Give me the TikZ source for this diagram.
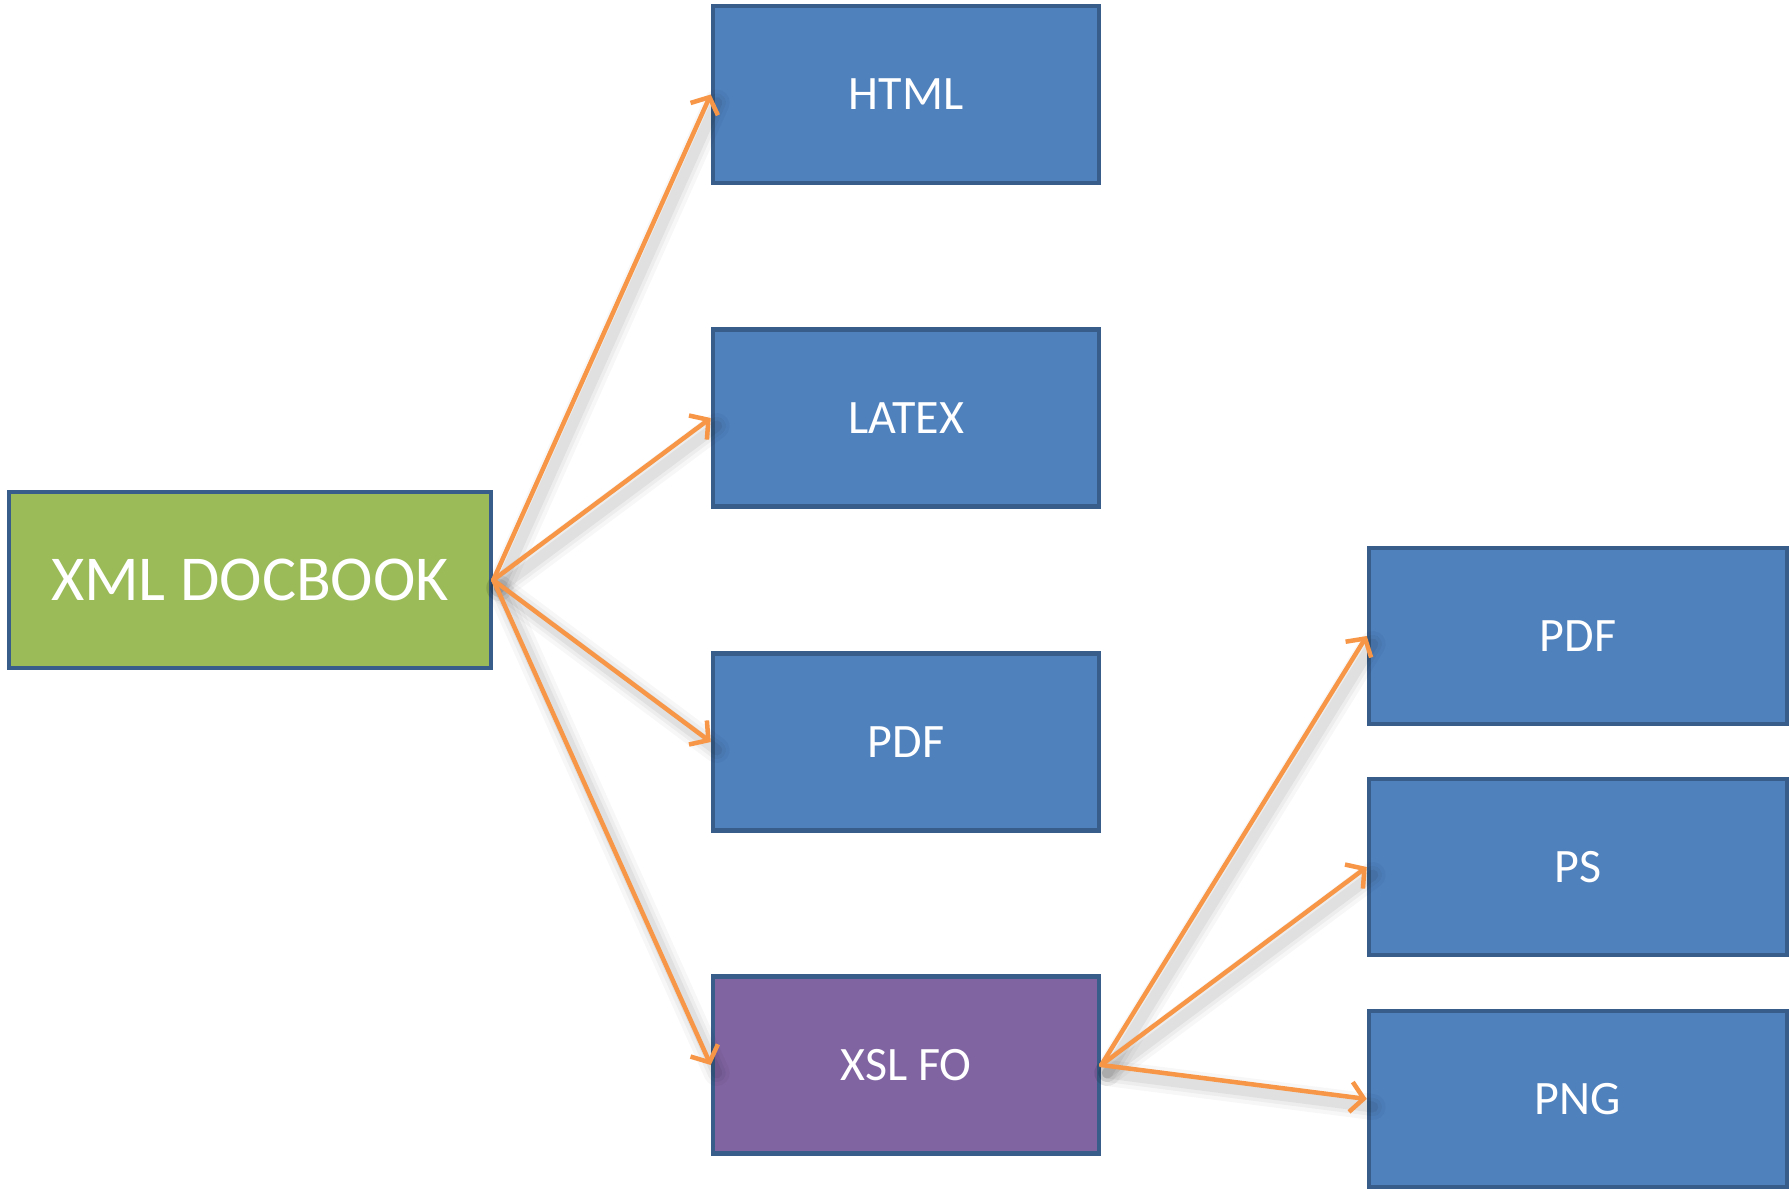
\documentclass[tikz,border=0pt]{standalone}
\usepackage{fontspec}
\setmainfont{Carlito}
\usetikzlibrary{arrows.meta}
\definecolor{boxblue}{HTML}{4F81BD}
\definecolor{boxborder}{HTML}{385D8A}
\definecolor{boxgreen}{HTML}{9BBB59}
\definecolor{boxpurple}{HTML}{8064A2}
\definecolor{arrorange}{HTML}{F79646}
\tikzset{
  fmtbox/.style={rectangle, draw=boxborder, line width=4.5pt, fill=boxblue,
    text=white, inner sep=0pt, font=\fontsize{48}{56}\selectfont},
  arr/.style={draw=arrorange, line width=4.5pt,
    -{Straight Barb[length=13pt,width=30pt,line width=4.5pt]}, line cap=round},
  shadowline/.style={draw=black, line cap=round}
}
\begin{document}
\begin{tikzpicture}[x=1pt,y=-1pt]
\useasboundingbox (0,0) rectangle (1790,1188);
\fill[white] (0,0) rectangle (1790,1188);
% nodes
\node[fmtbox, fill=boxgreen, minimum width=482pt, minimum height=176pt,
      font=\fontsize{64}{72}\selectfont] (src) at (250,580) {XML DOCBOOK};
\node[fmtbox, minimum width=386pt, minimum height=177pt] (html) at (906,94.5) {HTML};
\node[fmtbox, minimum width=386pt, minimum height=177pt] (latex) at (906,418) {LATEX};
\node[fmtbox, minimum width=386pt, minimum height=177pt] (pdf) at (906,742) {PDF};
\node[fmtbox, fill=boxpurple, minimum width=386pt, minimum height=177pt] (xsl) at (906,1065) {XSL FO};
\node[fmtbox, minimum width=418pt, minimum height=176pt] (pdf2) at (1578,636) {PDF};
\node[fmtbox, minimum width=418pt, minimum height=176pt] (ps) at (1578,867) {PS};
\node[fmtbox, minimum width=418pt, minimum height=176pt] (png) at (1578,1099) {PNG};
% soft shadows
\foreach \a/\b in {src/html,src/latex,src/pdf,src/xsl,xsl/pdf2,xsl/ps,xsl/png}{
  \foreach \w/\o in {26/0.03,18/0.04,11/0.05}{
    \draw[shadowline, line width=\w pt, opacity=\o]
      ([shift={(6,8)}]\a.east) -- ([shift={(6,8)}]\b.west);
  }
}
% connectors
\draw[arr] (src.east) -- (html.west);
\draw[arr] (src.east) -- (latex.west);
\draw[arr] (src.east) -- (pdf.west);
\draw[arr] (src.east) -- (xsl.west);
\draw[arr] (xsl.east) -- (pdf2.west);
\draw[arr] (xsl.east) -- (ps.west);
\draw[arr] (xsl.east) -- (png.west);
\end{tikzpicture}
\end{document}
